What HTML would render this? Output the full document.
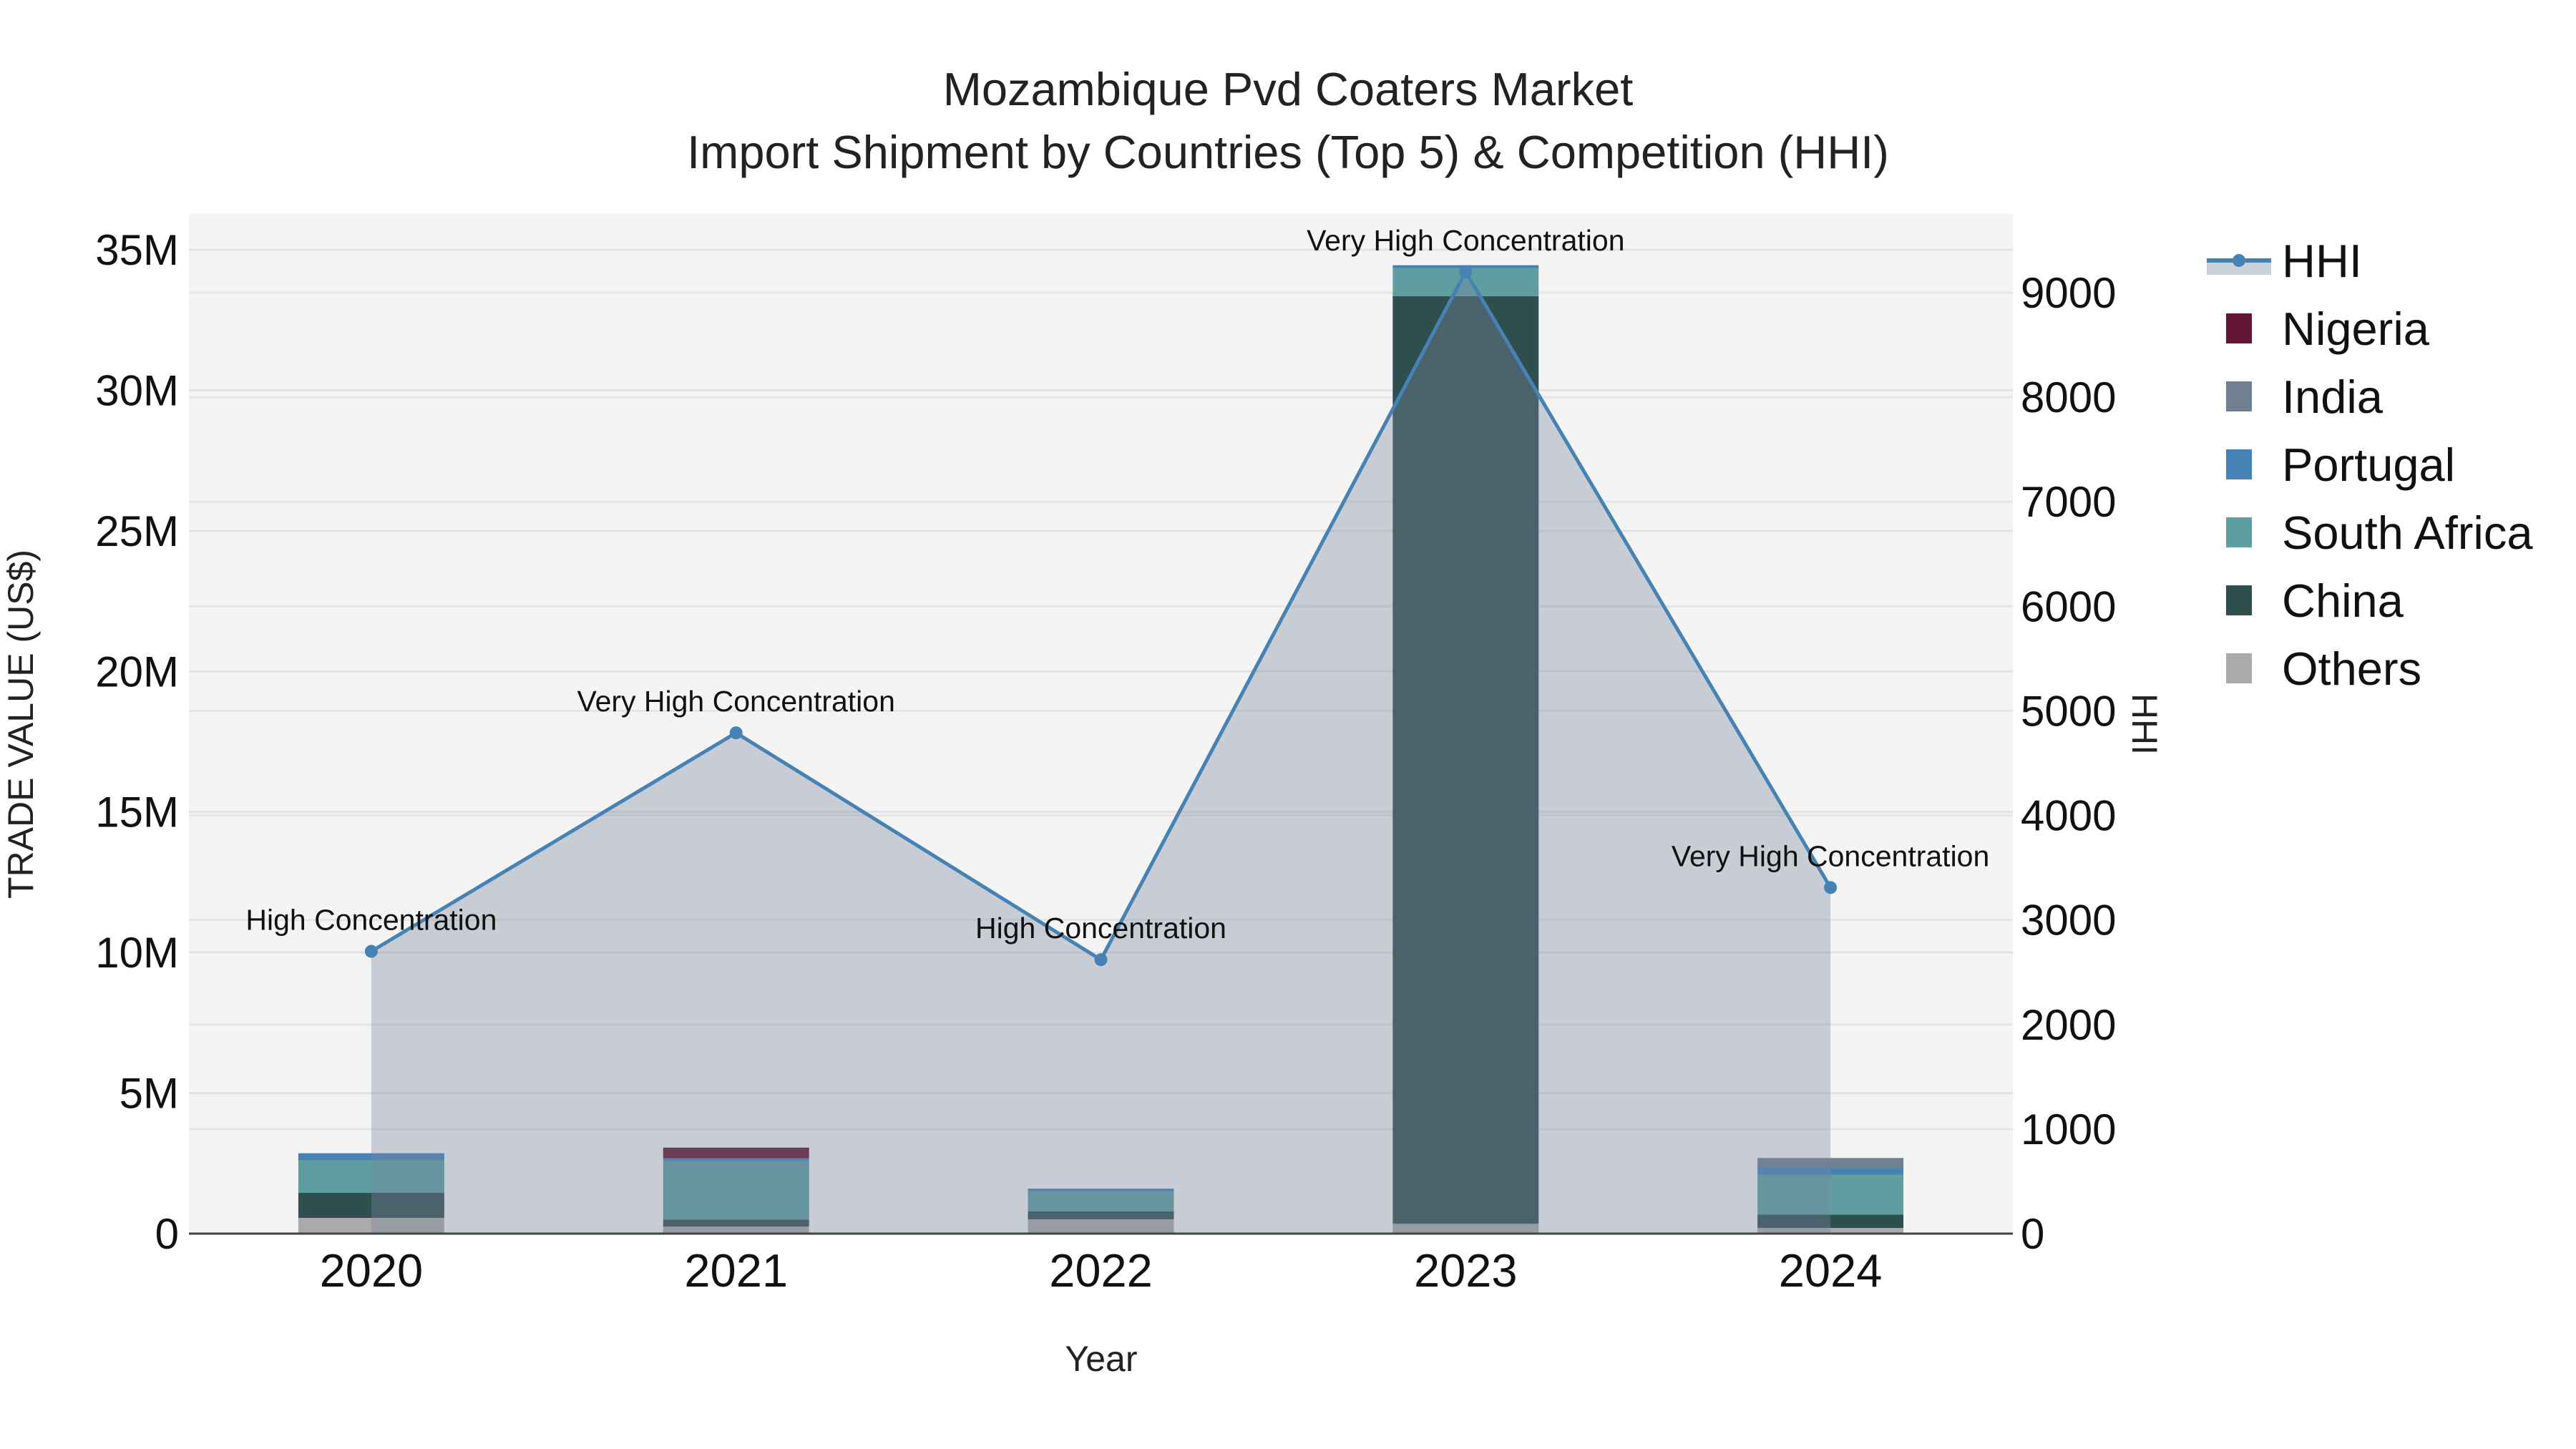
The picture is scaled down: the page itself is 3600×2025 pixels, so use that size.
<!DOCTYPE html>
<html><head><meta charset="utf-8"><style>
html,body{margin:0;padding:0;background:#fff;}
svg{display:block;font-family:"Liberation Sans",sans-serif;}
</style></head><body>
<svg id="chart" width="3600" height="2025" viewBox="0 0 3600 2025" xmlns="http://www.w3.org/2000/svg">
<rect x="0" y="0" width="3600" height="2025" fill="#ffffff"/>
<rect x="264" y="299" width="2549" height="1425" fill="#f4f4f4"/>
<g id="grid"></g>
<g id="bars"></g>
<g id="hhi"></g>
<g id="axes"></g>
<text x="1800" y="147" font-size="65" text-anchor="middle" fill="#222">Mozambique Pvd Coaters Market</text>
<text x="1800" y="235" font-size="65" text-anchor="middle" fill="#222">Import Shipment by Countries (Top 5) &amp; Competition (HHI)</text>
<text x="1539" y="1916" font-size="50" text-anchor="middle" fill="#222">Year</text>
<text transform="translate(46,1012) rotate(-90)" font-size="50" text-anchor="middle" fill="#222">TRADE VALUE (US$)</text>
<text transform="translate(2980,1012) rotate(90)" font-size="50" text-anchor="middle" fill="#222">HHI</text>
<g id="legend"></g>
</svg>
<script>
const years = ["2020","2021","2022","2023","2024"];
const seriesNames = ["Others","China","South Africa","Portugal","India","Nigeria"];
const others = [0.56, 0.25, 0.51, 0.35, 0.20];
const china = [0.89, 0.25, 0.28, 33.0, 0.48];
const southAfrica = [1.16, 2.08, 0.71, 1.0, 1.42];
const portugal = [0.25, 0.10, 0.10, 0.1, 0.23];
const india = [0, 0, 0, 0, 0.36];
const nigeria = [0, 0.38, 0, 0, 0];
const hhi = [2700, 4790, 2620, 9200, 3310];
const hhiLabels = ["High Concentration","Very High Concentration","High Concentration","Very High Concentration","Very High Concentration"];
const yTicks = [0,5,10,15,20,25,30,35];
const yTickLabels = ["0","5M","10M","15M","20M","25M","30M","35M"];
const y2Ticks = [0,1000,2000,3000,4000,5000,6000,7000,8000,9000];

const NS = "http://www.w3.org/2000/svg";
const colors = {"Others":"#aaaaaa","China":"#2f4f4f","South Africa":"#5f9ea0","Portugal":"#4682b4","India":"#708090","Nigeria":"#611434"};
const seriesData = {"Others":others,"China":china,"South Africa":southAfrica,"Portugal":portugal,"India":india,"Nigeria":nigeria};
const X0=264, X1=2813, Y0=1724;
const band=(X1-X0)/years.length;
function xPos(i){return X0+band*(i+0.5);}
function yL(v){return Y0-v*(Y0-349)/35;}
function yR(v){return Y0-v*(Y0-409)/9000;}
function mk(tag,attrs,parent){const e=document.createElementNS(NS,tag);for(const k in attrs)e.setAttribute(k,attrs[k]);parent.appendChild(e);return e;}
const grid=document.getElementById('grid');
yTicks.forEach(v=>{const l=mk('line',{x1:X0,x2:X1,y1:yL(v),y2:yL(v),stroke:'#e2e2e2','stroke-width':3},grid);

});
y2Ticks.forEach(v=>{const l=mk('line',{x1:X0,x2:X1,y1:yR(v),y2:yR(v),stroke:'#e6e6e6','stroke-width':3},grid);

});
const bars=document.getElementById('bars');
const bw=band*0.4;
years.forEach((yr,i)=>{let acc=0;seriesNames.forEach(s=>{const v=seriesData[s][i];if(v<=0)return;
const r=mk('rect',{x:xPos(i)-bw/2,y:yL(acc+v),width:bw,height:yL(acc)-yL(acc+v),fill:colors[s]},bars);


acc+=v;});});
const g=document.getElementById('hhi');
let pts=hhi.map((v,i)=>xPos(i)+','+yR(v)).join(' ');
const area=mk('polygon',{points:xPos(0)+','+Y0+' '+pts+' '+xPos(hhi.length-1)+','+Y0,fill:'rgba(120,134,157,0.36)'},g);


const line=mk('polyline',{points:pts,fill:'none',stroke:'#4682b4','stroke-width':5},g);


hhi.forEach((v,i)=>{const c=mk('circle',{cx:xPos(i),cy:yR(v),r:9,fill:'#4682b4'},g);


const t=mk('text',{x:xPos(i),y:yR(v)-30,'font-size':41,'text-anchor':'middle',fill:'#111'},g);t.textContent=hhiLabels[i];

});
const ax=document.getElementById('axes');
const zl=mk('line',{x1:X0,x2:X1,y1:Y0,y2:Y0,stroke:'#444','stroke-width':3},ax);


yTicks.forEach((v,i)=>{const t=mk('text',{x:250,y:yL(v)+21,'font-size':60,'text-anchor':'end',fill:'#111'},ax);t.textContent=yTickLabels[i];

});
y2Ticks.forEach(v=>{const t=mk('text',{x:2824,y:yR(v)+21,'font-size':60,'text-anchor':'start',fill:'#111'},ax);t.textContent=String(v);

});
years.forEach((yr,i)=>{const t=mk('text',{x:xPos(i),y:1798,'font-size':65,'text-anchor':'middle',fill:'#111'},ax);t.textContent=yr;

});
const lg=document.getElementById('legend');
const legendItems=["HHI","Nigeria","India","Portugal","South Africa","China","Others"];
legendItems.forEach((n,k)=>{const cy=364+k*95;
if(n==="HHI"){const a=mk('rect',{x:3084,y:cy,width:90,height:20,fill:'#cbd1d9'},lg);


const l=mk('line',{x1:3084,x2:3174,y1:cy,y2:cy,stroke:'#4682b4','stroke-width':6},lg);


const c=mk('circle',{cx:3129,cy:cy,r:9,fill:'#4682b4'},lg);

}
else{const r=mk('rect',{x:3111,y:cy-21,width:36,height:42,fill:colors[n]},lg);

}
const t=mk('text',{x:3189,y:cy+23,'font-size':65,fill:'#111'},lg);t.textContent=n;

});
</script>
</body></html>
